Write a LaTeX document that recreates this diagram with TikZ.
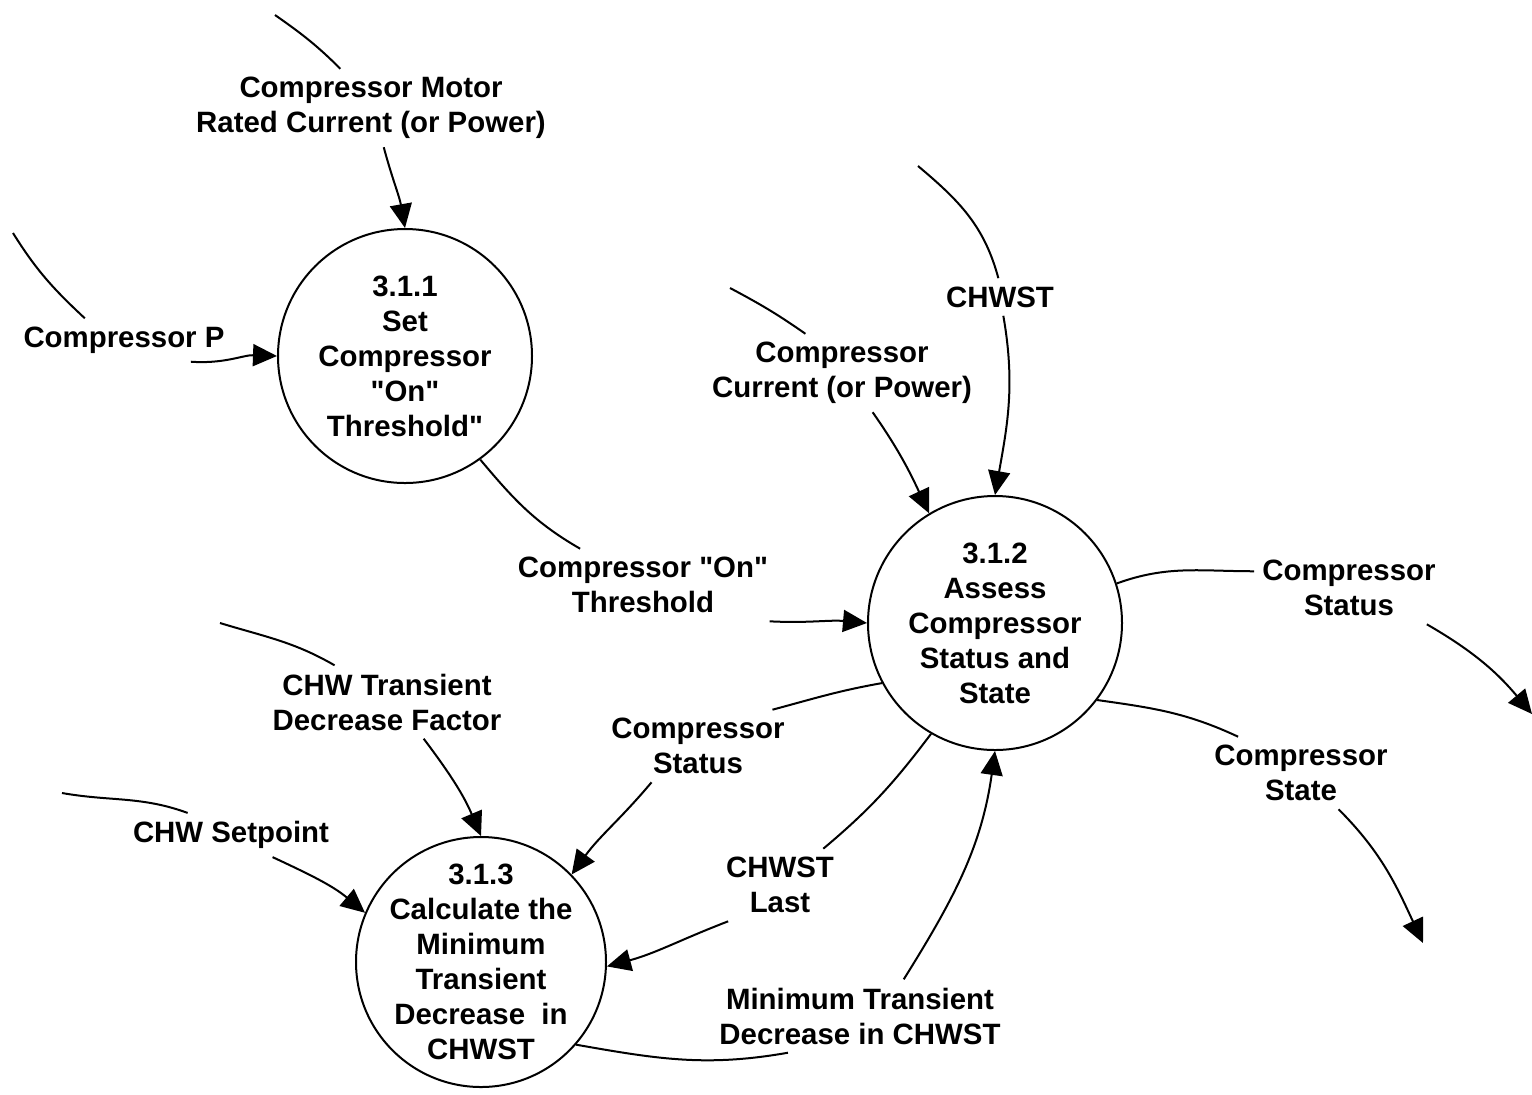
\documentclass[tikz,border=0pt]{standalone}
\usepackage{fontspec}
\setmainfont{Liberation Sans}
\usepackage{xcolor}
\usepackage{tikz}
\usetikzlibrary{arrows.meta}
\definecolor{tinta}{HTML}{000000}

\begin{document}
\begin{tikzpicture}[x=0.5pt,y=-0.5pt,
  font=\fontsize{14.7}{17.5}\selectfont\bfseries,
  proceso/.style={circle,draw=tinta,line width=1pt,minimum size=127pt,inner sep=-8pt,align=center,text=tinta},
  rotulo/.style={align=center,inner sep=4pt,text=tinta},
  flujo/.style={draw=tinta,line width=1pt},
  flecha/.style={flujo,-{Triangle[length=12pt,width=11pt]}}]
\useasboundingbox (0,0) rectangle (1532,1094);
% procesos
\node[proceso] (p311) at (405,356) {3.1.1\\Set\\Compressor\\\textquotedbl On\textquotedbl\\Threshold\textquotedbl};
\node[proceso] (p312) at (995,623) {3.1.2\\Assess\\Compressor\\Status and\\State};
\node[proceso,minimum size=125pt] (p313) at (481,962) {3.1.3\\Calculate the\\Minimum\\Transient\\Decrease~~in\\CHWST};
% rotulos de los flujos
\node[rotulo] (motor) at (371,108) {Compressor Motor\\Rated Current (or Power)};
\node[rotulo] (presion) at (124,340) {Compressor P};
\node[rotulo] (umbral) at (643,585) {Compressor \textquotedbl On\textquotedbl\\Threshold};
\node[rotulo] (chwst) at (1000,297) {CHWST};
\node[rotulo] (corriente) at (842,373) {Compressor\\Current (or Power)};
\node[rotulo] (estatusSal) at (1349,588) {Compressor\\Status};
\node[rotulo] (condicion) at (1301,773) {Compressor\\State};
\node[rotulo] (estatus) at (698,746) {Compressor\\Status};
\node[rotulo] (ultima) at (780,885) {CHWST\\Last};
\node[rotulo] (minimo) at (860,1016) {Minimum Transient\\Decrease in CHWST};
\node[rotulo] (factor) at (387,702) {CHW Transient\\Decrease Factor};
\node[rotulo] (consigna) at (231,835) {CHW Setpoint};
% extremos libres
\coordinate (eMotor) at (275,15);
\coordinate (ePres) at (13,233);
\coordinate (eChwst) at (918,166);
\coordinate (eCorr) at (730,288);
\coordinate (eFactor) at (220,623);
\coordinate (eCons) at (62,793);
\coordinate (sEstatus) at (1532,714);
\coordinate (sCond) at (1423,943);
% flujos
\draw[flujo] (eMotor) to[out=-35,in=135] (motor.128);
\draw[flecha] (motor.-72) to[out=-75,in=100] (p311.north);
\draw[flujo] (ePres) to[out=-58,in=137] (presion.151);
\draw[flecha] (presion.-18) to[out=-4,in=178] (p311.west);
\draw[flujo] (p311.-54) to[out=-50,in=150] (umbral.150);
\draw[flecha] (umbral.-16) to[out=-3,in=175] (p312.west);
\draw[flujo] (eChwst) to[out=-40,in=105] (chwst.95);
\draw[flecha] (chwst.-80) to[out=-80,in=80] (p312.north);
\draw[flujo] (eCorr) to[out=-28,in=145] (corriente.133);
\draw[flecha] (corriente.-52) to[out=-55,in=115] (p312.121);
\draw[flujo] (p312.18) to[out=20,in=180] (estatusSal.170);
\draw[flecha] (estatusSal.-25) to[out=-30,in=130] (sEstatus);
\draw[flujo] (p312.-37) to[out=-8,in=155] (condicion.150);
\draw[flecha] (condicion.-44) to[out=-45,in=115] (sCond);
\draw[flujo] (p312.208) to[out=190,in=15] (estatus.26);
\draw[flecha] (estatus.218) to[out=230,in=54] (p313.44);
\draw[flujo] (p312.240) to[out=233,in=40] (ultima.40);
\draw[flecha] (ultima.215) to[out=201,in=15] (p313.-2);
\draw[flujo] (p313.-41) to[out=-10,in=190] (minimo.207);
\draw[flecha] (minimo.40) to[out=58,in=-98] (p312.south);
\draw[flujo] (eFactor) to[out=-17,in=150] (factor.145);
\draw[flecha] (factor.-45) to[out=-53,in=113] (p313.north);
\draw[flujo] (eCons) to[out=-10,in=160] (consigna.153);
\draw[flecha] (consigna.-28) to[out=-25,in=140] (p313.157);
\end{tikzpicture}
\end{document}
